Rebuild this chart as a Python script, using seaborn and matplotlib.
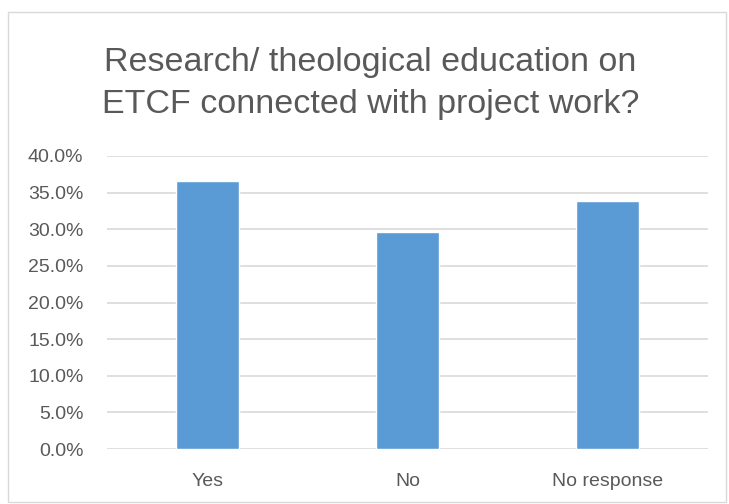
import matplotlib
matplotlib.use('Agg')
import pandas as pd
import seaborn as sns
import matplotlib.pyplot as plt
from matplotlib.patches import Rectangle
from matplotlib.ticker import PercentFormatter

# values (share of answers, %)
categories = ['Yes', 'No', 'No response']
shares = [36.6, 29.6, 33.8]
y_ticks = [0, 5, 10, 15, 20, 25, 30, 35, 40]

title = 'Research/ theological education on\nETCF connected with project work?'

df = pd.DataFrame({'answer': categories, 'share': shares})

sns.set_style('white')
plt.rcParams['font.family'] = ['Liberation Sans', 'DejaVu Sans']

fig = plt.figure(figsize=(7.29, 5.04), dpi=100)
ax = fig.add_axes([107 / 729, 1 - 449 / 504, 601 / 729, 293 / 504])

sns.barplot(data=df, x='answer', y='share', color='#5B9BD5', saturation=1,
            width=0.315, ax=ax, zorder=3)

ax.set_ylim(0, 40)
ax.set_xlim(-0.5, 2.5)
ax.set_yticks(y_ticks)
ax.yaxis.set_major_formatter(PercentFormatter(decimals=1))
ax.grid(axis='y', color='#D9D9D9', linewidth=1.2, zorder=0)
for s in ax.spines.values():
    s.set_visible(False)
ax.tick_params(axis='both', length=0, labelsize=14, colors='#595959')
ax.tick_params(axis='y', pad=17)
ax.tick_params(axis='x', pad=17)
ax.set_xlabel('')
ax.set_ylabel('')

fig.text(0.508, 0.834, title, ha='center', va='center', fontsize=24.5,
         color='#595959', linespacing=1.45)

fig.patches.append(Rectangle((8 / 729, 2 / 504), 718 / 729, 490 / 504,
                             transform=fig.transFigure, fill=False,
                             edgecolor='#D9D9D9', linewidth=1))

fig.savefig('out.png', dpi=100)
